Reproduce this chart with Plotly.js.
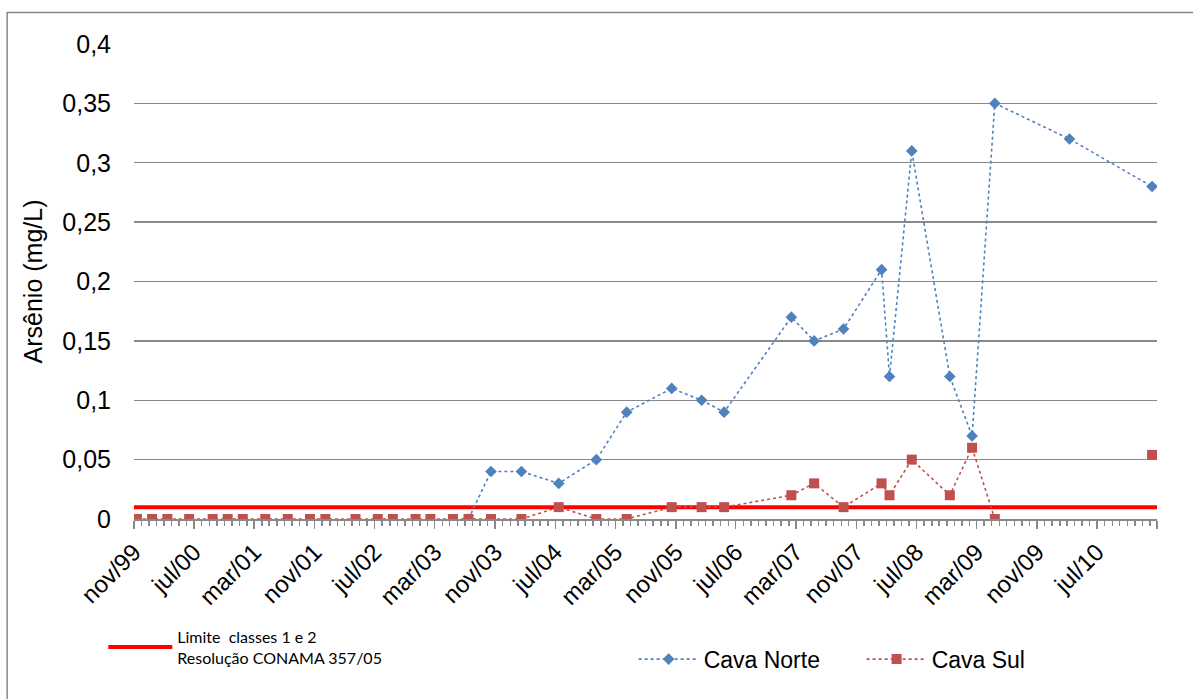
<!DOCTYPE html>
<html>
<head>
<meta charset="utf-8">
<script src="https://cdn.plot.ly/plotly-3.0.1.min.js"></script>
<style>html,body{margin:0;padding:0;background:#fff;}#chart{width:1193px;height:699px;}</style>
</head>
<body>
<div id="chart"></div>
<script>
// Sampling dates (shared by both series)
const dates = [
  '1999-11-13','2000-01-13','2000-03-15','2000-06-11','2000-09-14','2000-11-14',
  '2001-01-14','2001-04-15','2001-07-15','2001-10-13','2001-12-14','2002-04-15',
  '2002-07-14','2002-09-13','2002-12-14','2003-02-12','2003-05-14','2003-07-16',
  '2003-10-15','2004-02-15','2004-07-15','2004-12-14','2005-04-16','2005-10-15',
  '2006-02-13','2006-05-15','2007-02-11','2007-05-14','2007-09-10','2008-02-11',
  '2008-03-14','2008-06-12','2008-11-13','2009-02-11','2009-05-14','2010-03-12',
  '2011-02-09'
];
// Cava Norte (mg/L) - null where not measured
const cavaNorte = [
  null,null,null,null,null,null,
  null,null,null,null,null,null,
  null,null,null,null,null,0,
  0.04,0.04,0.03,0.05,0.09,0.11,
  0.10,0.09,0.17,0.15,0.16,0.21,
  0.12,0.31,0.12,0.07,0.35,0.32,
  0.28
];
// Cava Sul (mg/L)
const cavaSul = [
  0,0,0,0,0,0,
  0,0,0,0,0,0,
  0,0,0,0,0,0,
  0,0,0.01,0,0,0.01,
  0.01,0.01,0.02,0.03,0.01,0.03,
  0.02,0.05,0.02,0.06,0,null,
  0.054
];
// Limit (Resolução CONAMA 357/05, classes 1 e 2)
const limitDates = ['1999-11-01','2011-03-01'];
const limitValues = [0.01, 0.01];

// Axis ticks
const tickDates = ['1999-11-01','2000-07-01','2001-03-01','2001-11-01','2002-07-01','2003-03-01',
  '2003-11-01','2004-07-01','2005-03-01','2005-11-01','2006-07-01','2007-03-01','2007-11-01',
  '2008-07-01','2009-03-01','2009-11-01','2010-07-01','2011-03-01'];
const tickLabels = ['nov/99','jul/00','mar/01','nov/01','jul/02','mar/03','nov/03','jul/04',
  'mar/05','nov/05','jul/06','mar/07','nov/07','jul/08','mar/09','nov/09','jul/10',''];

const axisGray = '#898989';
const arial = 'Liberation Sans, Arial, sans-serif';

const traces = [
  {
    x: limitDates, y: limitValues, type: 'scatter', mode: 'lines',
    name: 'Limite \u00a0classes 1 e 2<br>Resolução CONAMA 357/05',
    line: {color: '#FF0000', width: 4},
    legend: 'legend2', hoverinfo: 'skip'
  },
  {
    x: dates, y: cavaNorte, type: 'scatter', mode: 'lines+markers',
    name: 'Cava Norte', connectgaps: false,
    line: {color: '#4F81BD', width: 1.6, dash: 'dot'},
    marker: {symbol: 'diamond', size: 9, color: '#4F81BD'}
  },
  {
    x: dates, y: cavaSul, type: 'scatter', mode: 'lines+markers',
    name: 'Cava Sul', connectgaps: false,
    line: {color: '#C0504D', width: 1.6, dash: 'dot'},
    marker: {symbol: 'square', size: 10, color: '#C0504D'}
  }
];

const layout = {
  width: 1193, height: 699,
  margin: {l: 134, r: 36, t: 44, b: 180},
  paper_bgcolor: '#fff', plot_bgcolor: '#fff',
  separators: ',.',
  font: {family: arial, size: 25, color: '#000'},
  showlegend: true,
  xaxis: {
    type: 'date',
    range: ['1999-11-01','2011-03-01'],
    tickmode: 'array', tickvals: tickDates, ticktext: tickLabels,
    tickangle: -45,
    ticks: 'outside', ticklen: 8, tickwidth: 1.5, tickcolor: axisGray,
    minor: {dtick: 'M1', tick0: '1999-11-01', ticks: 'outside', ticklen: 5, tickwidth: 1.5, tickcolor: axisGray, showgrid: false},
    showline: true, linecolor: axisGray, linewidth: 1.5,
    showgrid: false, zeroline: false,
    tickfont: {family: arial, size: 24, color: '#000'}
  },
  yaxis: {
    range: [0, 0.4], dtick: 0.05, tick0: 0,
    showgrid: true, gridcolor: axisGray, gridwidth: 1.4,
    zeroline: false, showline: false,
    ticks: '', ticklabelstandoff: 22,
    tickfont: {family: arial, size: 25, color: '#000'},
    title: {text: 'Arsênio (mg/L)', font: {family: arial, size: 25, color: '#000'}, standoff: 12}
  },
  legend: {
    orientation: 'h', x: 0.4884, y: -0.295, xanchor: 'left', yanchor: 'middle',
    font: {family: arial, size: 23, color: '#000'},
    itemwidth: 60, entrywidth: 153,
    bgcolor: 'rgba(0,0,0,0)', traceorder: 'normal'
  },
  legend2: {
    x: -0.03, y: -0.27, xanchor: 'left', yanchor: 'middle',
    itemwidth: 64,
    font: {family: 'Lato, Open Sans, sans-serif', size: 16, color: '#000'},
    bgcolor: 'rgba(0,0,0,0)'
  },
  shapes: [{
    type: 'rect', xref: 'paper', yref: 'paper',
    x0: -0.124, x1: 1.2, y0: -0.6, y1: 1.0663,
    line: {color: axisGray, width: 1.5}, fillcolor: 'rgba(0,0,0,0)', layer: 'below'
  }],
  hovermode: false
};

Plotly.newPlot('chart', traces, layout, {displayModeBar: false, staticPlot: true});
</script>
</body>
</html>
